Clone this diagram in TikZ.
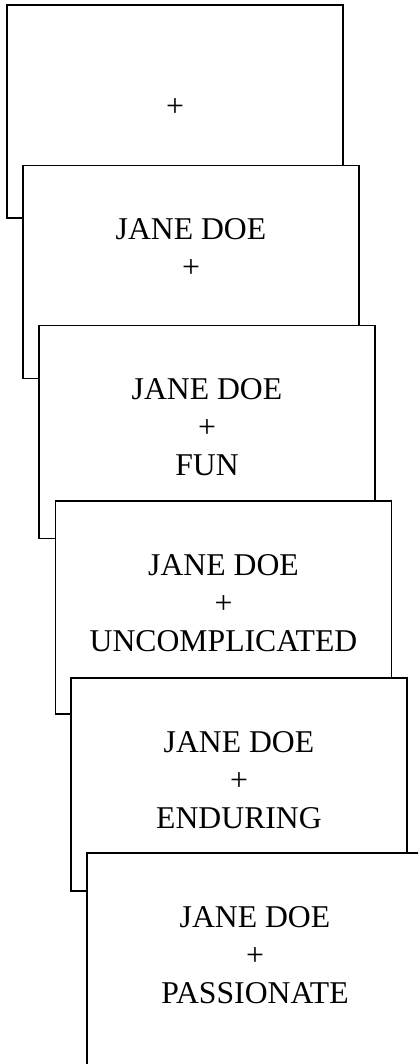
\documentclass[tikz,border=0pt]{standalone}
\usepackage{fontspec}
\setmainfont{Liberation Serif}
\begin{document}
\begin{tikzpicture}[x=1pt,y=-1pt,
  card/.style={draw=black, line width=1.3pt, fill=white,
    minimum width=336pt, minimum height=213pt,
    inner sep=0pt, outer sep=0pt,
    text height=26pt, text depth=91pt,
    font=\fontsize{31.7}{38}\selectfont}]
\useasboundingbox (0,0) rectangle (418,1064);
\clip (0,0) rectangle (418,1064);
\node[card] (c1) at (175,111.5) {\begin{tabular}[t]{c}\mbox{}\\ +\\ \mbox{}\end{tabular}};
\node[card] (c2) at (191,272) {\begin{tabular}[t]{c}JANE DOE\\ +\\ \mbox{}\end{tabular}};
\node[card] (c3) at (207,432) {\begin{tabular}[t]{c}JANE DOE\\ +\\ FUN\end{tabular}};
\node[card] (c4) at (223.5,607.5) {\begin{tabular}[t]{c}JANE DOE\\ +\\ UNCOMPLICATED\end{tabular}};
\node[card] (c5) at (239,784.5) {\begin{tabular}[t]{c}JANE DOE\\ +\\ ENDURING\end{tabular}};
\node[card] (c6) at (255,959.5) {\begin{tabular}[t]{c}JANE DOE\\ +\\ PASSIONATE\end{tabular}};
\end{tikzpicture}
\end{document}
